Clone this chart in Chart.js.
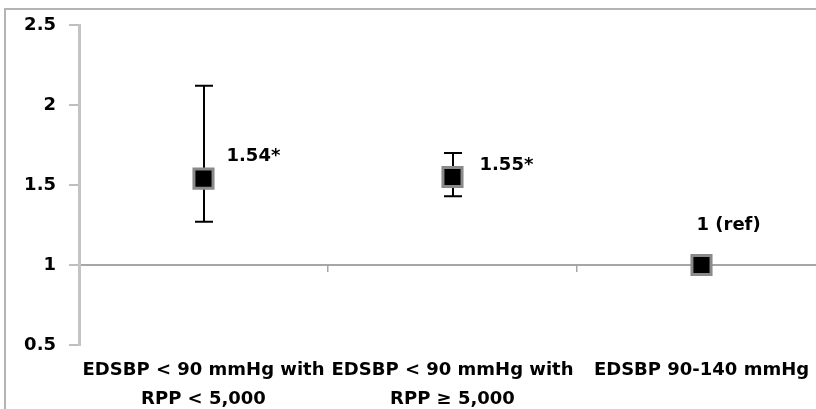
<!DOCTYPE html>
<html>
<head>
<meta charset="utf-8">
<script src="https://cdn.jsdelivr.net/npm/chart.js@4"></script>
<style>
  html, body { margin: 0; padding: 0; background: #fff; overflow: hidden; }
  #clip { position: relative; width: 816px; height: 409px; overflow: hidden; }
  #frame { position: absolute; left: 4px; top: 8px; border: 2px solid #b4b4b4; width: 820px; height: 420px; }
  canvas { display: block; }
</style>
</head>
<body>
<div id="clip"><div id="frame"><canvas id="orChart" width="820" height="420"></canvas></div></div>
<script>
const categories = [
  ['EDSBP < 90 mmHg with', 'RPP < 5,000'],
  ['EDSBP < 90 mmHg with', 'RPP \u2265 5,000'],
  'EDSBP 90-140 mmHg'
];
const oddsRatio = [1.54, 1.55, 1];
const ciLow = [1.27, 1.43, null];
const ciHigh = [2.12, 1.70, null];
const pointLabels = ['1.54*', '1.55*', '1 (ref)'];
const yTicks = [0.5, 1, 1.5, 2, 2.5];

// label placement relative to the point (px)
const labelShift = [[23, -22], [27, -12], [-5, -40]];

const FONT = '"DejaVu Sans", sans-serif';

// keep the plot area where the reference has it
const noPad = s => { s.paddingTop = 0; s.paddingBottom = 0; s.paddingLeft = 0; s.paddingRight = 0; };

// whiskers + value labels, placed through the chart scales
const errorBars = {
  id: 'errorBars',
  beforeDatasetsDraw(chart) {
    const { ctx, scales: { x, y } } = chart;
    ctx.save();
    ctx.strokeStyle = '#000';
    ctx.lineWidth = 2;
    oddsRatio.forEach((v, i) => {
      if (ciLow[i] == null) return;
      const px = Math.round(x.getPixelForValue(i));
      const top = y.getPixelForValue(ciHigh[i]);
      const bot = y.getPixelForValue(ciLow[i]);
      ctx.beginPath();
      ctx.moveTo(px, top); ctx.lineTo(px, bot);
      ctx.moveTo(px - 9, top); ctx.lineTo(px + 9, top);
      ctx.moveTo(px - 9, bot); ctx.lineTo(px + 9, bot);
      ctx.stroke();
    });
    ctx.restore();
  },
  afterDatasetsDraw(chart) {
    const { ctx, scales: { x, y } } = chart;
    ctx.save();
    ctx.fillStyle = '#000';
    ctx.font = 'bold 18px ' + FONT;
    ctx.textAlign = 'left';
    ctx.textBaseline = 'middle';
    oddsRatio.forEach((v, i) => {
      ctx.fillText(pointLabels[i],
        x.getPixelForValue(i) + labelShift[i][0],
        y.getPixelForValue(v) + labelShift[i][1]);
    });
    ctx.restore();
  }
};

new Chart(document.getElementById('orChart'), {
  type: 'line',
  data: {
    labels: categories,
    datasets: [{
      data: oddsRatio,
      showLine: false,
      pointStyle: 'rect',
      pointRadius: 13.5,
      pointHoverRadius: 13.5,
      pointBackgroundColor: '#000',
      pointBorderColor: '#8a8a8a',
      pointBorderWidth: 3,
      xAxisID: 'x',
      yAxisID: 'y'
    }]
  },
  options: {
    responsive: false,
    animation: false,
    devicePixelRatio: 1,
    layout: { autoPadding: false, padding: { top: 15, right: 0, bottom: 0, left: 0 } },
    plugins: { legend: { display: false }, tooltip: { enabled: false } },
    scales: {
      x: {
        type: 'category',
        position: { y: 1 },
        offset: true,
        grid: { offset: true, drawOnChartArea: false, tickLength: 6, color: '#a6a6a6', lineWidth: 1.5 },
        border: { color: '#a6a6a6', width: 2 },
        ticks: { display: false },
        afterFit: noPad
      },
      x2: {
        type: 'category',
        position: 'bottom',
        offset: true,
        grid: { display: false, drawTicks: false },
        border: { display: false },
        ticks: {
          color: '#000',
          font: { family: FONT, size: 18, weight: 'bold', lineHeight: 1.65 },
          maxRotation: 0,
          autoSkip: false,
          padding: 10
        },
        afterFit: s => { noPad(s); s.height = 85; }
      },
      y: {
        min: 0.5,
        max: 2.5,
        afterBuildTicks: s => { s.ticks = yTicks.map(v => ({ value: v })); },
        grid: { drawOnChartArea: false, tickLength: 10, color: '#bfbfbf', lineWidth: 2 },
        border: { color: '#c4c4c4', width: 3 },
        ticks: {
          color: '#000',
          font: { family: FONT, size: 18, weight: 'bold' },
          padding: 13,
          callback: v => String(v)
        },
        afterFit: s => { noPad(s); s.width = 73; }
      }
    }
  },
  plugins: [errorBars]
});
</script>
</body>
</html>
